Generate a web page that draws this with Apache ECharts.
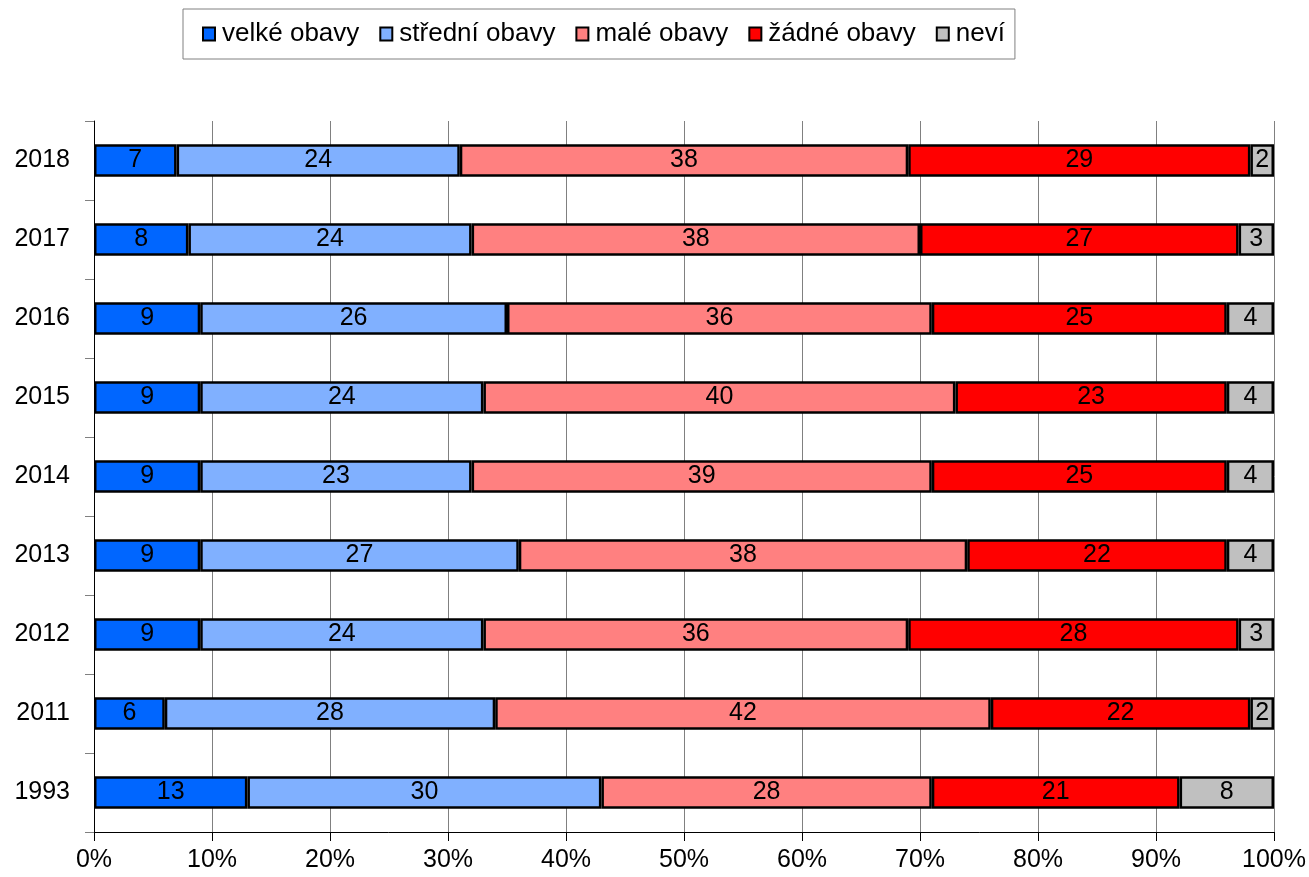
<!DOCTYPE html>
<html>
<head>
<meta charset="utf-8">
<script src="https://cdn.jsdelivr.net/npm/echarts@6/dist/echarts.min.js"></script>
<style>html,body{margin:0;padding:0;background:#fff;}#c{width:1309px;height:877px;}</style>
</head>
<body>
<div id="c"></div>
<script>
const years = ['1993','2011','2012','2013','2014','2015','2016','2017','2018'];
const velke   = [13, 6, 9, 9, 9, 9, 9, 8, 7];
const stredni = [30, 28, 24, 27, 23, 24, 26, 24, 24];
const male    = [28, 42, 36, 38, 39, 40, 36, 38, 38];
const zadne   = [21, 22, 28, 22, 25, 23, 25, 27, 29];
const nevi    = [8, 2, 3, 4, 4, 4, 4, 3, 2];
const xTicks = [0,10,20,30,40,50,60,70,80,90,100];

const names = ['velké obavy','střední obavy','malé obavy','žádné obavy','neví'];
const colors = ['#0066FF','#80B0FF','#FF8080','#FF0000','#C0C0C0'];
const dataSets = [velke, stredni, male, zadne, nevi];
const font = 'Liberation Sans, Arial, sans-serif';

const chart = echarts.init(document.getElementById('c'));
chart.setOption({
  animation: false,
  textStyle: {fontFamily: font},
  legend: {
    left: 183, top: 9,
    padding: [12, 10, 12, 19],
    borderColor: '#808080', borderWidth: 1,
    icon: 'rect',
    itemWidth: 12, itemHeight: 13, itemGap: 20,
    textStyle: {fontSize: 26, color: '#000', fontFamily: font, padding: [0,0,0,2]},
    data: names.map(n => ({name: n, itemStyle: {borderColor: '#000', borderWidth: 2}}))
  },
  grid: {left: 94, right: 35, top: 121, bottom: 45, containLabel: false},
  xAxis: {
    type: 'value', min: 0, max: 100, interval: 10,
    axisLabel: {formatter: v => xTicks.includes(v) ? v + '%' : '', fontSize: 25, color: '#000', margin: 16, fontFamily: font},
    axisLine: {show: true, lineStyle: {color: '#000', width: 1}},
    axisTick: {show: true, length: 9, lineStyle: {color: '#000'}},
    splitLine: {show: true, lineStyle: {color: '#808080', width: 1}}
  },
  yAxis: {
    type: 'category', data: years,
    axisLabel: {fontSize: 25, color: '#000', margin: 24, fontFamily: font},
    axisLine: {show: true, lineStyle: {color: '#000', width: 1}},
    axisTick: {show: true, length: 9, alignWithLabel: false, lineStyle: {color: '#808080'}},
    splitLine: {show: false}
  },
  series: names.map((n, i) => ({
    name: n, type: 'bar', stack: 'all',
    barCategoryGap: '59%',
    data: dataSets[i],
    itemStyle: {color: colors[i], borderColor: '#000', borderWidth: 2.5},
    label: {show: true, position: 'inside', color: '#000', fontSize: 25, fontFamily: font},
    emphasis: {disabled: true}
  }))
});
</script>
</body>
</html>
